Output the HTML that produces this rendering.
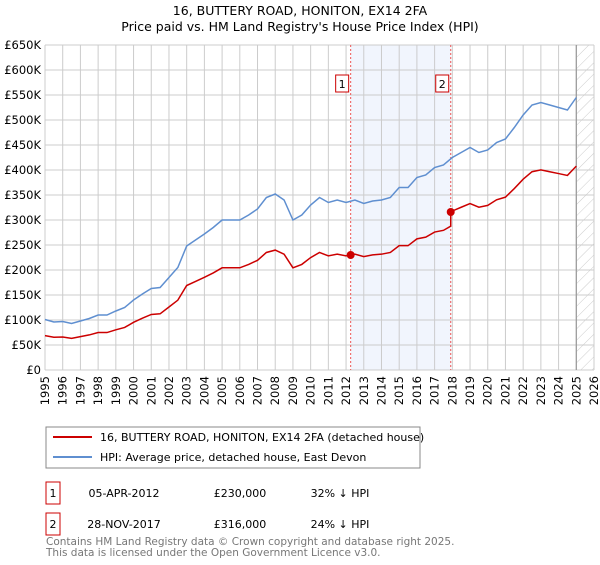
<!DOCTYPE html>
<html><head><meta charset="utf-8"><style>
body{margin:0;background:#fff;font-family:"Liberation Sans","DejaVu Sans",sans-serif;}
svg text{font-family:"DejaVu Sans","Liberation Sans",sans-serif;}
</style></head><body>
<svg id="chart" width="600" height="560" xmlns="http://www.w3.org/2000/svg">
<text x="300" y="15" text-anchor="middle" font-size="12.5" fill="#000">16, BUTTERY ROAD, HONITON, EX14 2FA</text>
<text x="300" y="31" text-anchor="middle" font-size="12.5" fill="#000">Price paid vs. HM Land Registry's House Price Index (HPI)</text>
<g id="grid"></g>
<g id="marks"></g>
<g id="axes"></g>
<rect x="46" y="427" width="374" height="41" fill="#fff" stroke="#888"/>
<line x1="53" y1="437" x2="92" y2="437" stroke="#cc0000" stroke-width="2"/>
<text x="100" y="441" font-size="11">16, BUTTERY ROAD, HONITON, EX14 2FA (detached house)</text>
<line x1="53" y1="457" x2="92" y2="457" stroke="#5f8fd0" stroke-width="2"/>
<text x="100" y="461" font-size="11">HPI: Average price, detached house, East Devon</text>
<g>
<rect x="46" y="482" width="14" height="22" fill="#fff" stroke="#cc0000"/>
<text x="53" y="497" text-anchor="middle" font-size="11">1</text>
<text x="124" y="497" text-anchor="middle" font-size="11">05-APR-2012</text>
<text x="240" y="497" text-anchor="middle" font-size="11">£230,000</text>
<text x="340" y="497" text-anchor="middle" font-size="11">32% ↓ HPI</text>
</g>
<g>
<rect x="46" y="513" width="14" height="22" fill="#fff" stroke="#cc0000"/>
<text x="53" y="528" text-anchor="middle" font-size="11">2</text>
<text x="124" y="528" text-anchor="middle" font-size="11">28-NOV-2017</text>
<text x="240" y="528" text-anchor="middle" font-size="11">£316,000</text>
<text x="340" y="528" text-anchor="middle" font-size="11">24% ↓ HPI</text>
</g>
<text x="46" y="545" font-size="10.5" fill="#777">Contains HM Land Registry data © Crown copyright and database right 2025.</text>
<text x="46" y="556" font-size="10.5" fill="#777">This data is licensed under the Open Government Licence v3.0.</text>
</svg>
<script>
const hpiYears=[1995,1995.5,1996,1996.5,1997,1997.5,1998,1998.5,1999,1999.5,2000,2000.5,2001,2001.5,2002,2002.5,2003,2003.5,2004,2004.5,2005,2005.5,2006,2006.5,2007,2007.5,2008,2008.5,2009,2009.5,2010,2010.5,2011,2011.5,2012,2012.5,2013,2013.5,2014,2014.5,2015,2015.5,2016,2016.5,2017,2017.5,2018,2018.5,2019,2019.5,2020,2020.5,2021,2021.5,2022,2022.5,2023,2023.5,2024,2024.5,2025];
const hpiValues=[101,96,97,93,98,103,110,110,118,125,140,152,163,165,185,205,248,260,272,285,300,300,300,310,322,345,352,340,300,310,330,345,335,340,335,340,333,338,340,345,365,365,385,390,405,410,425,435,445,435,440,455,462,485,510,530,535,530,525,520,545];
const saleYears=[2012.26,2017.91];
const salePrices=[230,316];
const saleLabels=["1","2"];
const yTicks=[0,50,100,150,200,250,300,350,400,450,500,550,600,650];
const yTickLabels=["£0","£50K","£100K","£150K","£200K","£250K","£300K","£350K","£400K","£450K","£500K","£550K","£600K","£650K"];
const xTicks=[1995,1996,1997,1998,1999,2000,2001,2002,2003,2004,2005,2006,2007,2008,2009,2010,2011,2012,2013,2014,2015,2016,2017,2018,2019,2020,2021,2022,2023,2024,2025,2026];
const dataEnd=2025.0;

const L=45,R=594,T=45,B=370;
const x=v=>L+(v-1995)/(2026-1995)*(R-L);
const y=v=>B-v/650*(B-T);
const NS="http://www.w3.org/2000/svg";
function mk(tag,attrs,parent){const e=document.createElementNS(NS,tag);for(const k in attrs)e.setAttribute(k,attrs[k]);parent.appendChild(e);return e;}
const grid=document.getElementById('grid'),marks=document.getElementById('marks'),axes=document.getElementById('axes');

const shade=mk('rect',{x:x(saleYears[0]),y:T,width:x(saleYears[1])-x(saleYears[0]),height:B-T,fill:'#eef3fc',opacity:0.8},grid);


const defs=mk('defs',{},grid);
const pat=mk('pattern',{id:'hatch',width:8,height:8,patternUnits:'userSpaceOnUse',patternTransform:'rotate(45)'},defs);
mk('line',{x1:0,y1:0,x2:0,y2:8,stroke:'#ccc','stroke-width':1},pat);
const hat=mk('rect',{x:x(dataEnd),y:T,width:R-x(dataEnd),height:B-T,fill:'url(#hatch)'},grid);



yTicks.forEach((t,i)=>{
  mk('line',{x1:L,x2:R,y1:y(t),y2:y(t),stroke:'#cccccc'},grid);
  const tx=mk('text',{x:L-4,y:y(t)+4,'text-anchor':'end','font-size':11.5},axes);
  tx.textContent=yTickLabels[i];
  
  
});
xTicks.forEach(t=>{
  mk('line',{x1:x(t),x2:x(t),y1:T,y2:B,stroke:'#cccccc'},grid);
  const tx=mk('text',{x:0,y:0,'text-anchor':'end','font-size':11.5,transform:`translate(${x(t)+4},${B+6}) rotate(-90)`},axes);
  tx.textContent=t;
  
  
});
const endLine=mk('line',{x1:x(dataEnd),x2:x(dataEnd),y1:T,y2:B,stroke:'#999','stroke-width':1.2},grid);



saleYears.forEach((s,i)=>{
  const ln=mk('line',{x1:x(s),x2:x(s),y1:T,y2:B,stroke:'#ee5555','stroke-dasharray':'2,2'},marks);
  
  
  const bx=mk('rect',{x:x(s)-15,y:75,width:13,height:17,fill:'#fff',stroke:'#cc0000'},marks);
  
  
  const tx=mk('text',{x:x(s)-8.5,y:88,'text-anchor':'middle','font-size':11},marks);
  tx.textContent=saleLabels[i];
  
  
});

function interp(t){for(let i=0;i<hpiYears.length-1;i++){if(t<=hpiYears[i+1]){const f=(t-hpiYears[i])/(hpiYears[i+1]-hpiYears[i]);return hpiValues[i]+f*(hpiValues[i+1]-hpiValues[i]);}}return hpiValues[hpiValues.length-1];}
const r1=salePrices[0]/interp(saleYears[0]), r2=salePrices[1]/interp(saleYears[1]);
const hpiPts=hpiYears.map((t,i)=>x(t)+','+y(hpiValues[i])).join(' ');
const hl=mk('polyline',{points:hpiPts,fill:'none',stroke:'#5f8fd0','stroke-width':1.5},marks);


const redPts=[];
hpiYears.forEach((t,i)=>{
  if(t<saleYears[1]) redPts.push([t,hpiValues[i]*r1]);
  if(i<hpiYears.length-1 && t<saleYears[1] && hpiYears[i+1]>=saleYears[1]){
    redPts.push([saleYears[1],interp(saleYears[1])*r1]);
    redPts.push([saleYears[1],salePrices[1]]);
  }
  if(t>=saleYears[1]) redPts.push([t,hpiValues[i]*r2]);
});
const pl=mk('polyline',{points:redPts.map(p=>x(p[0])+','+y(p[1])).join(' '),fill:'none',stroke:'#cc0000','stroke-width':1.5},marks);


saleYears.forEach((s,i)=>{
  const c=mk('circle',{cx:x(s),cy:y(salePrices[i]),r:4,fill:'#cc0000'},marks);
  
  
});
</script>
</body></html>
